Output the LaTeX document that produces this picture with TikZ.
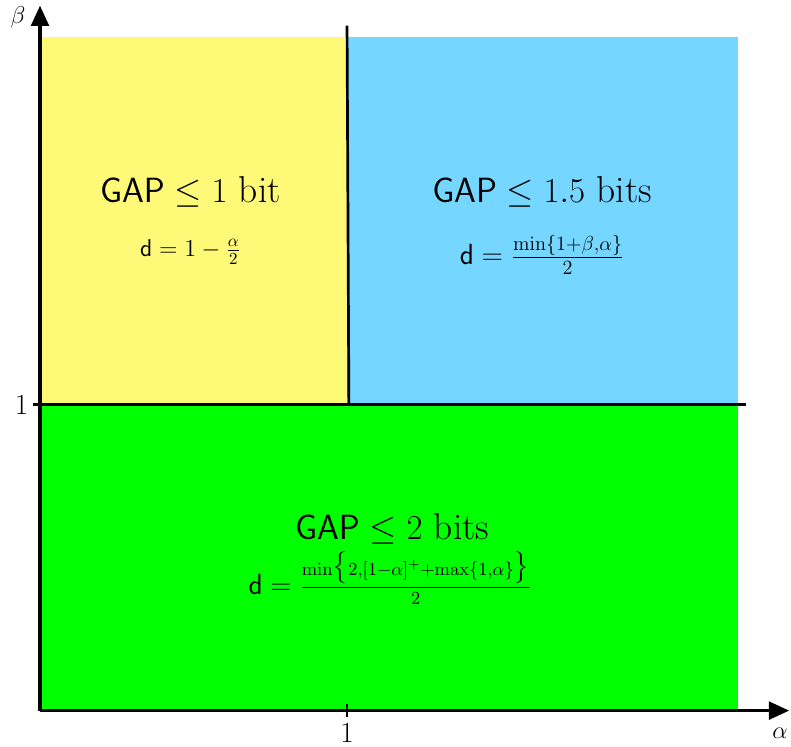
\documentclass[tikz,border=0pt]{standalone}
\usepackage{amsmath, amssymb}
\usetikzlibrary{arrows.meta}
\definecolor{gapyellow}{HTML}{FFF978}
\definecolor{gapblue}{HTML}{75D6FF}
\definecolor{gapgreen}{HTML}{00FF00}
\tikzset{
  >={Triangle[length=12pt, width=10.5pt]},
  every picture/.style={line cap=butt, line join=miter},
  axis/.style={->, line width=1.8pt},
  border/.style={line width=1.6pt},
  tick/.style={line width=1pt},
  title/.style={font=\fontsize{22.2}{26}\selectfont, inner sep=0pt},
  formula/.style={font=\Large, inner sep=0pt},
  ticklabel/.style={font=\LARGE, inner sep=0pt},
}
\begin{document}
\begin{tikzpicture}[x=6.4cm, y=6.375cm]
  \useasboundingbox (-0.1303,-0.1176) rectangle (2.446,2.3235);
  % ---------- the three regions
  \fill[gapyellow] (0,1) rectangle (1,2.203);
  \fill[gapblue] (1,1) rectangle (2.274,2.203);
  \fill[gapgreen] (0,0) rectangle (2.274,1);
  % ---------- borders between them
  \draw[border] (1.006,1) -- (1,2.24);
  \draw[border] (-0.023,1) -- (2.3,1);
  % ---------- axes
  \coordinate (O) at (0,0);
  \draw[axis] (O) -- (2.44,0);
  \draw[axis] (O) -- (0,2.305);
  \draw[tick] (1,-0.022) -- (1,0.02);
  \node[font=\Large] (alpha) at (2.41,-0.075) {$\alpha$};
  \node[font=\Large] (beta) at (-0.072,2.265) {$\beta$};
  \node[ticklabel] (xone) at (1,-0.074) {$1$};
  \node[ticklabel] (yone) at (-0.06,1) {$1$};
  % ---------- gaps and rates
  \node[title] (gap1) at (0.49,1.695) {$\mathsf{GAP}\leq 1$ bit};
  \node[formula] (d1) at (0.49,1.50) {$\mathsf{d}=1-\frac{\alpha}{2}$};
  \node[title] (gap2) at (1.635,1.695) {$\mathsf{GAP}\leq 1.5$ bits};
  \node[formula, font=\LARGE] (d2) at (1.635,1.49) {$\mathsf{d}=\frac{\min\{1+\beta,\alpha\}}{2}$};
  \node[title] (gap3) at (1.147,0.595) {$\mathsf{GAP}\leq 2$ bits};
  \node[formula, font=\fontsize{16}{19}\selectfont] (d3) at (1.14,0.435)
    {$\mathsf{d}=\frac{\min\bigl\{2,[1-\alpha]^{+}+\max\{1,\alpha\}\bigr\}}{2}$};
\end{tikzpicture}
\end{document}
